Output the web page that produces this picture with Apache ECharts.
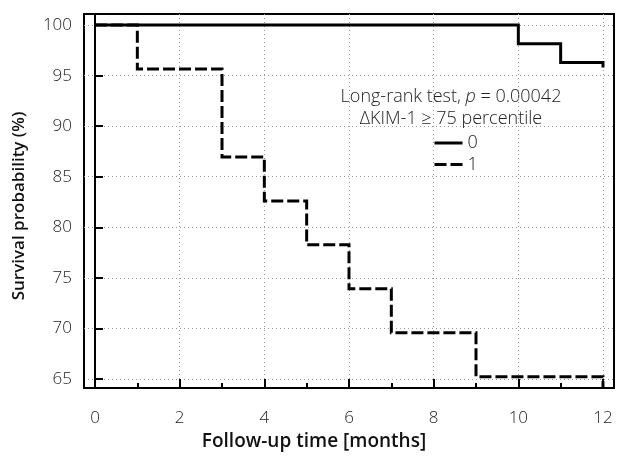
<!DOCTYPE html>
<html>
<head>
<meta charset="utf-8">
<script src="https://cdn.jsdelivr.net/npm/echarts@6/dist/echarts.min.js"></script>
<style>
    html, body { margin: 0; padding: 0; background: #fff; }
    #main { width: 622px; height: 456px; }
</style>
</head>
<body>
<div id="main"></div>
<script>
// Kaplan-Meier steps, ΔKIM-1 < 75 percentile (group 0)
const months0 = [0, 10, 11, 12, 12];
const surv0 = [100, 98.15, 96.3, 96.3, 95.8];
// ΔKIM-1 >= 75 percentile (group 1)
const months1 = [0, 1, 3, 4, 5, 6, 7, 9, 12, 12];
const surv1 = [100, 95.65, 86.96, 82.61, 78.26, 73.91, 69.57, 65.22, 65.22, 64.1];

const xTicks = [0, 2, 4, 6, 8, 10, 12];
const yTicks = [65, 70, 75, 80, 85, 90, 95, 100];
const groupNames = ['0', '1'];

const font = 'Open Sans';
const txtColor = '#222';

const toPairs = (xs, ys) => xs.map((x, i) => [x, ys[i]]);

let chart = echarts.init(document.getElementById('main'));
chart.setOption({
    animation: false,
    grid: {
        left: 84, right: 8, top: 14, bottom: 64,
        show: true, borderColor: '#000', borderWidth: 2
    },
    legend: {
        data: groupNames,
        orient: 'vertical',
        left: 428,
        top: 129,
        itemWidth: 28,
        itemHeight: 14,
        itemGap: 3.5,
        itemStyle: { opacity: 0 },
        lineStyle: { width: 3 },
        textStyle: { fontFamily: font, fontWeight: 300, fontSize: 18, lineHeight: 16, color: txtColor }
    },
    graphic: [{
        type: 'text',
        x: 451, y: 97,
        style: {
            text: '{a|Long-rank test, }{b|p}{a| = 0.00042}',
            align: 'center', verticalAlign: 'middle',
            rich: {
                a: { fontFamily: font, fontWeight: 300, fontSize: 18, fill: txtColor },
                b: { fontFamily: font, fontWeight: 300, fontSize: 18, fontStyle: 'italic', fill: txtColor }
            }
        }
    }, {
        type: 'text',
        x: 451, y: 119,
        style: {
            text: 'ΔKIM-1 ≥ 75 percentile',
            align: 'center', verticalAlign: 'middle',
            fontFamily: font, fontWeight: 300, fontSize: 18, fill: txtColor
        }
    }],
    xAxis: [{
        type: 'value',
        min: -0.26, max: 12.26,
        minInterval: 2, maxInterval: 2,
        name: 'Follow-up time [months]',
        nameLocation: 'middle',
        nameGap: 44,
        nameTextStyle: { fontFamily: font, fontWeight: 600, fontSize: 19, color: '#111', padding: [0, 70, 0, 0] },
        axisLine: { show: true, lineStyle: { color: '#000', width: 2 } },
        axisTick: { inside: true, length: 9, lineStyle: { color: '#000', width: 2 } },
        axisLabel: {
            margin: 22, fontFamily: font, fontWeight: 300, fontSize: 17, color: txtColor,
            formatter: (v) => xTicks.includes(v) ? String(v) : ''
        },
        splitLine: { show: true, showMinLine: false, showMaxLine: false, lineStyle: { color: '#999', width: 1, type: [1, 3] } }
    }, {
        // minor ticks every month
        type: 'value',
        position: 'bottom',
        min: -0.26, max: 12.26,
        minInterval: 1, maxInterval: 1,
        axisLine: { show: false },
        axisTick: { inside: true, length: 5, lineStyle: { color: '#000', width: 2 } },
        axisLabel: { show: false },
        splitLine: { show: false }
    }],
    yAxis: {
        type: 'value',
        min: 64.1, max: 101.1,
        minInterval: 5, maxInterval: 5,
        splitNumber: 7,
        name: 'Survival probability (%)',
        nameLocation: 'middle',
        nameGap: 56,
        nameTextStyle: { fontFamily: font, fontWeight: 600, fontSize: 17, color: '#111', padding: [0, 10, 0, 0] },
        axisLine: { show: true, lineStyle: { color: '#000', width: 2 } },
        axisTick: { inside: true, length: 8, lineStyle: { color: '#000', width: 2 } },
        axisLabel: {
            margin: 12, fontFamily: font, fontWeight: 300, fontSize: 17, color: txtColor,
            formatter: (v) => yTicks.includes(v) ? String(v) : ''
        },
        splitLine: { show: true, showMinLine: false, showMaxLine: false, lineStyle: { color: '#999', width: 1, type: [1, 3] } }
    },
    series: [{
        name: groupNames[0],
        type: 'line',
        step: 'end',
        symbol: 'none',
        data: toPairs(months0, surv0),
        lineStyle: { color: '#000', width: 3, cap: 'butt', join: 'miter' },
        itemStyle: { color: '#000' },
        z: 5
    }, {
        name: groupNames[1],
        type: 'line',
        step: 'end',
        symbol: 'none',
        data: toPairs(months1, surv1),
        lineStyle: { color: '#000', width: 3, type: [12, 4], cap: 'butt', join: 'miter' },
        itemStyle: { color: '#000' },
        z: 5
    }]
});
</script>
</body>
</html>
